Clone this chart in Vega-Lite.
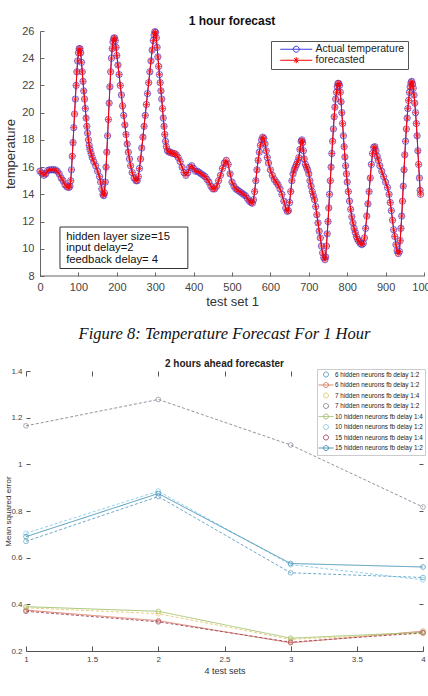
{
  "$schema": "https://vega.github.io/schema/vega-lite/v6.json",
  "background": "white",
  "padding": {"left": 4, "top": 15, "right": 0, "bottom": 0},
  "spacing": 17,
  "config": {
    "view": {"stroke": null},
    "font": "Liberation Sans",
    "axis": {"grid": false, "titleFontWeight": "normal", "labelFlush": false, "labelOverlap": false}
  },
  "resolve": {
    "scale": {"x": "independent", "y": "independent", "color": "independent"},
    "axis": {"x": "independent", "y": "independent"},
    "legend": {"color": "independent"}
  },
  "vconcat": [
    {
      "width": 398,
      "height": 245,
      "title": {"text": "1 hour forecast", "fontSize": 12, "fontWeight": "bold", "color": "#111", "offset": -3, "dx": 7, "anchor": "middle"},
      "layer": [
        {
          "data": {"values": [
            {"t":0,"actual":15.7,"forecast":15.7},{"t":5,"actual":15.55,"forecast":15.55},{"t":10,"actual":15.4,"forecast":15.4},{"t":15,"actual":15.5,"forecast":15.5},
            {"t":20,"actual":15.75,"forecast":15.75},{"t":25,"actual":15.8,"forecast":15.8},{"t":30,"actual":15.8,"forecast":15.8},{"t":35,"actual":15.8,"forecast":15.8},
            {"t":40,"actual":15.8,"forecast":15.8},{"t":45,"actual":15.7,"forecast":15.7},{"t":50,"actual":15.5,"forecast":15.5},{"t":55,"actual":15.2,"forecast":15.2},
            {"t":60,"actual":15.0,"forecast":15.0},{"t":65,"actual":14.7,"forecast":14.7},{"t":70,"actual":14.55,"forecast":14.55},{"t":75,"actual":14.5,"forecast":14.5},
            {"t":78,"actual":14.6,"forecast":14.6},{"t":80,"actual":15.0,"forecast":15.0},{"t":82,"actual":15.8,"forecast":15.8},{"t":84,"actual":16.8,"forecast":16.8},
            {"t":86,"actual":17.8,"forecast":17.8},{"t":88,"actual":18.9,"forecast":18.9},{"t":90,"actual":19.9,"forecast":19.9},{"t":92,"actual":21.0,"forecast":21.0},
            {"t":94,"actual":22.0,"forecast":22.0},{"t":96,"actual":23.0,"forecast":23.0},{"t":98,"actual":23.8,"forecast":23.8},{"t":100,"actual":24.4,"forecast":24.4},
            {"t":102,"actual":24.7,"forecast":24.7},{"t":104,"actual":24.7,"forecast":24.7},{"t":106,"actual":24.4,"forecast":24.4},{"t":108,"actual":23.7,"forecast":23.7},
            {"t":110,"actual":23.0,"forecast":23.0},{"t":112,"actual":22.3,"forecast":22.3},{"t":114,"actual":21.6,"forecast":21.6},{"t":116,"actual":21.0,"forecast":21.0},
            {"t":118,"actual":20.3,"forecast":20.3},{"t":120,"actual":19.6,"forecast":19.6},{"t":122,"actual":19.0,"forecast":19.0},{"t":124,"actual":18.5,"forecast":18.5},
            {"t":126,"actual":18.0,"forecast":18.0},{"t":128,"actual":17.6,"forecast":17.6},{"t":130,"actual":17.3,"forecast":17.3},{"t":133,"actual":17.0,"forecast":17.0},
            {"t":136,"actual":16.7,"forecast":16.7},{"t":140,"actual":16.4,"forecast":16.4},{"t":145,"actual":16.1,"forecast":16.1},{"t":150,"actual":15.7,"forecast":15.7},
            {"t":155,"actual":15.3,"forecast":15.3},{"t":158,"actual":14.9,"forecast":14.9},{"t":161,"actual":14.4,"forecast":14.4},{"t":164,"actual":14.0,"forecast":14.0},
            {"t":166,"actual":13.9,"forecast":13.9},{"t":168,"actual":14.1,"forecast":14.1},{"t":170,"actual":14.9,"forecast":14.9},{"t":172,"actual":16.0,"forecast":16.0},
            {"t":174,"actual":17.1,"forecast":17.1},{"t":176,"actual":18.3,"forecast":18.3},{"t":178,"actual":19.5,"forecast":19.5},{"t":180,"actual":20.7,"forecast":20.7},
            {"t":182,"actual":21.9,"forecast":21.9},{"t":184,"actual":23.0,"forecast":23.0},{"t":186,"actual":24.0,"forecast":24.0},{"t":188,"actual":24.7,"forecast":24.7},
            {"t":190,"actual":25.2,"forecast":25.2},{"t":192,"actual":25.45,"forecast":25.45},{"t":194,"actual":25.5,"forecast":25.5},{"t":196,"actual":25.3,"forecast":25.3},
            {"t":198,"actual":24.8,"forecast":24.8},{"t":200,"actual":24.2,"forecast":24.2},{"t":203,"actual":23.5,"forecast":23.5},{"t":206,"actual":22.8,"forecast":22.8},
            {"t":209,"actual":22.0,"forecast":22.0},{"t":212,"actual":21.3,"forecast":21.3},{"t":215,"actual":20.5,"forecast":20.5},{"t":218,"actual":19.8,"forecast":19.8},
            {"t":221,"actual":19.1,"forecast":19.1},{"t":224,"actual":18.4,"forecast":18.4},{"t":227,"actual":17.7,"forecast":17.7},{"t":230,"actual":17.1,"forecast":17.1},
            {"t":233,"actual":16.6,"forecast":16.6},{"t":236,"actual":16.1,"forecast":16.1},{"t":240,"actual":15.6,"forecast":15.6},{"t":245,"actual":15.2,"forecast":15.2},
            {"t":250,"actual":15.0,"forecast":15.0},{"t":253,"actual":15.0,"forecast":15.0},{"t":256,"actual":15.3,"forecast":15.3},{"t":259,"actual":15.9,"forecast":15.9},
            {"t":262,"actual":16.6,"forecast":16.6},{"t":265,"actual":17.4,"forecast":17.4},{"t":268,"actual":18.2,"forecast":18.2},{"t":271,"actual":19.0,"forecast":19.0},
            {"t":274,"actual":19.8,"forecast":19.8},{"t":277,"actual":20.6,"forecast":20.6},{"t":280,"actual":21.4,"forecast":21.4},{"t":283,"actual":22.2,"forecast":22.2},
            {"t":286,"actual":23.0,"forecast":23.0},{"t":289,"actual":23.8,"forecast":23.8},{"t":292,"actual":24.6,"forecast":24.6},{"t":295,"actual":25.3,"forecast":25.3},
            {"t":297,"actual":25.7,"forecast":25.7},{"t":299,"actual":25.95,"forecast":25.95},{"t":301,"actual":25.9,"forecast":25.9},{"t":303,"actual":25.5,"forecast":25.5},
            {"t":305,"actual":24.8,"forecast":24.8},{"t":307,"actual":24.1,"forecast":24.1},{"t":309,"actual":23.4,"forecast":23.4},{"t":311,"actual":22.8,"forecast":22.8},
            {"t":313,"actual":22.2,"forecast":22.2},{"t":315,"actual":21.6,"forecast":21.6},{"t":317,"actual":21.0,"forecast":21.0},{"t":319,"actual":20.3,"forecast":20.3},
            {"t":321,"actual":19.6,"forecast":19.6},{"t":323,"actual":19.0,"forecast":19.0},{"t":325,"actual":18.4,"forecast":18.4},{"t":327,"actual":17.9,"forecast":17.9},
            {"t":329,"actual":17.5,"forecast":17.5},{"t":332,"actual":17.2,"forecast":17.2},{"t":336,"actual":17.1,"forecast":17.1},{"t":340,"actual":17.1,"forecast":17.1},
            {"t":345,"actual":17.0,"forecast":17.0},{"t":350,"actual":17.0,"forecast":17.0},{"t":355,"actual":16.9,"forecast":16.9},{"t":360,"actual":16.7,"forecast":16.7},
            {"t":365,"actual":16.4,"forecast":16.4},{"t":370,"actual":16.0,"forecast":16.0},{"t":375,"actual":15.6,"forecast":15.6},{"t":380,"actual":15.4,"forecast":15.4},
            {"t":385,"actual":15.6,"forecast":15.6},{"t":390,"actual":16.0,"forecast":16.0},{"t":395,"actual":16.1,"forecast":16.1},{"t":400,"actual":15.9,"forecast":15.9},
            {"t":405,"actual":15.7,"forecast":15.7},{"t":410,"actual":15.7,"forecast":15.7},{"t":415,"actual":15.6,"forecast":15.6},{"t":420,"actual":15.5,"forecast":15.5},
            {"t":425,"actual":15.4,"forecast":15.4},{"t":430,"actual":15.3,"forecast":15.3},{"t":435,"actual":15.1,"forecast":15.1},{"t":440,"actual":14.9,"forecast":14.9},
            {"t":445,"actual":14.6,"forecast":14.6},{"t":450,"actual":14.4,"forecast":14.4},{"t":455,"actual":14.4,"forecast":14.4},{"t":460,"actual":14.6,"forecast":14.6},
            {"t":465,"actual":15.0,"forecast":15.0},{"t":470,"actual":15.4,"forecast":15.4},{"t":475,"actual":15.9,"forecast":15.9},{"t":480,"actual":16.3,"forecast":16.3},
            {"t":485,"actual":16.5,"forecast":16.5},{"t":490,"actual":16.2,"forecast":16.2},{"t":495,"actual":15.5,"forecast":15.5},{"t":500,"actual":14.9,"forecast":14.9},
            {"t":505,"actual":14.6,"forecast":14.6},{"t":510,"actual":14.4,"forecast":14.4},{"t":515,"actual":14.3,"forecast":14.3},{"t":520,"actual":14.2,"forecast":14.2},
            {"t":525,"actual":14.1,"forecast":14.1},{"t":530,"actual":14.0,"forecast":14.0},{"t":535,"actual":13.9,"forecast":13.9},{"t":540,"actual":13.7,"forecast":13.7},
            {"t":545,"actual":13.5,"forecast":13.5},{"t":550,"actual":13.4,"forecast":13.4},{"t":553,"actual":13.35,"forecast":13.35},{"t":556,"actual":13.6,"forecast":13.6},
            {"t":559,"actual":14.2,"forecast":14.2},{"t":562,"actual":15.0,"forecast":15.0},{"t":565,"actual":15.8,"forecast":15.8},{"t":568,"actual":16.5,"forecast":16.5},
            {"t":571,"actual":17.1,"forecast":17.1},{"t":574,"actual":17.6,"forecast":17.6},{"t":577,"actual":18.0,"forecast":18.0},{"t":580,"actual":18.2,"forecast":18.2},
            {"t":583,"actual":18.1,"forecast":18.1},{"t":586,"actual":17.7,"forecast":17.7},{"t":589,"actual":17.2,"forecast":17.2},{"t":592,"actual":16.7,"forecast":16.7},
            {"t":595,"actual":16.3,"forecast":16.3},{"t":600,"actual":15.8,"forecast":15.8},{"t":605,"actual":15.4,"forecast":15.4},{"t":610,"actual":15.1,"forecast":15.1},
            {"t":615,"actual":14.9,"forecast":14.9},{"t":620,"actual":14.7,"forecast":14.7},{"t":625,"actual":14.4,"forecast":14.4},{"t":630,"actual":14.0,"forecast":14.0},
            {"t":635,"actual":13.5,"forecast":13.5},{"t":640,"actual":13.0,"forecast":13.0},{"t":644,"actual":12.75,"forecast":12.75},{"t":647,"actual":12.8,"forecast":12.8},
            {"t":650,"actual":13.4,"forecast":13.4},{"t":653,"actual":14.2,"forecast":14.2},{"t":656,"actual":15.0,"forecast":15.0},{"t":659,"actual":15.5,"forecast":15.5},
            {"t":662,"actual":15.8,"forecast":15.8},{"t":665,"actual":16.0,"forecast":16.0},{"t":668,"actual":16.2,"forecast":16.2},{"t":671,"actual":16.4,"forecast":16.4},
            {"t":674,"actual":16.7,"forecast":16.7},{"t":677,"actual":17.3,"forecast":17.3},{"t":680,"actual":17.9,"forecast":17.9},{"t":682,"actual":18.0,"forecast":18.0},
            {"t":684,"actual":17.8,"forecast":17.8},{"t":686,"actual":17.2,"forecast":17.2},{"t":688,"actual":16.6,"forecast":16.6},{"t":691,"actual":16.2,"forecast":16.2},
            {"t":694,"actual":16.0,"forecast":16.0},{"t":697,"actual":15.8,"forecast":15.8},{"t":700,"actual":15.5,"forecast":15.5},{"t":703,"actual":15.0,"forecast":15.0},
            {"t":706,"actual":14.6,"forecast":14.6},{"t":709,"actual":14.2,"forecast":14.2},{"t":712,"actual":13.9,"forecast":13.9},{"t":715,"actual":13.6,"forecast":13.6},
            {"t":718,"actual":13.1,"forecast":13.1},{"t":721,"actual":12.5,"forecast":12.5},{"t":724,"actual":11.9,"forecast":11.9},{"t":727,"actual":11.3,"forecast":11.3},
            {"t":730,"actual":10.8,"forecast":10.8},{"t":733,"actual":10.2,"forecast":10.2},{"t":736,"actual":9.7,"forecast":9.7},{"t":739,"actual":9.35,"forecast":9.35},
            {"t":742,"actual":9.2,"forecast":9.2},{"t":744,"actual":9.4,"forecast":9.4},{"t":746,"actual":10.2,"forecast":10.2},{"t":748,"actual":11.1,"forecast":11.1},
            {"t":750,"actual":12.0,"forecast":12.0},{"t":752,"actual":13.0,"forecast":13.0},{"t":754,"actual":14.0,"forecast":14.0},{"t":756,"actual":15.0,"forecast":15.0},
            {"t":758,"actual":16.0,"forecast":16.0},{"t":760,"actual":17.0,"forecast":17.0},{"t":762,"actual":17.9,"forecast":17.9},{"t":764,"actual":18.8,"forecast":18.8},
            {"t":766,"actual":19.7,"forecast":19.7},{"t":768,"actual":20.4,"forecast":20.4},{"t":770,"actual":21.0,"forecast":21.0},{"t":772,"actual":21.5,"forecast":21.5},
            {"t":774,"actual":21.9,"forecast":21.9},{"t":776,"actual":22.15,"forecast":22.15},{"t":778,"actual":22.15,"forecast":22.15},{"t":780,"actual":22.0,"forecast":22.0},
            {"t":782,"actual":21.5,"forecast":21.5},{"t":784,"actual":20.8,"forecast":20.8},{"t":786,"actual":20.0,"forecast":20.0},{"t":788,"actual":19.2,"forecast":19.2},
            {"t":790,"actual":18.3,"forecast":18.3},{"t":792,"actual":17.5,"forecast":17.5},{"t":794,"actual":16.75,"forecast":16.75},{"t":796,"actual":16.1,"forecast":16.1},
            {"t":798,"actual":15.5,"forecast":15.5},{"t":800,"actual":14.9,"forecast":14.9},{"t":803,"actual":14.2,"forecast":14.2},{"t":806,"actual":13.5,"forecast":13.5},
            {"t":809,"actual":12.9,"forecast":12.9},{"t":812,"actual":12.35,"forecast":12.35},{"t":815,"actual":11.9,"forecast":11.9},{"t":818,"actual":11.5,"forecast":11.5},
            {"t":821,"actual":11.2,"forecast":11.2},{"t":824,"actual":10.9,"forecast":10.9},{"t":827,"actual":10.7,"forecast":10.7},{"t":830,"actual":10.55,"forecast":10.55},
            {"t":834,"actual":10.4,"forecast":10.4},{"t":838,"actual":10.3,"forecast":10.3},{"t":842,"actual":10.4,"forecast":10.4},{"t":845,"actual":10.8,"forecast":10.8},
            {"t":848,"actual":11.5,"forecast":11.5},{"t":851,"actual":12.4,"forecast":12.4},{"t":854,"actual":13.3,"forecast":13.3},{"t":857,"actual":14.2,"forecast":14.2},
            {"t":860,"actual":15.2,"forecast":15.2},{"t":863,"actual":16.2,"forecast":16.2},{"t":866,"actual":17.0,"forecast":17.0},{"t":869,"actual":17.45,"forecast":17.45},
            {"t":872,"actual":17.5,"forecast":17.5},{"t":875,"actual":17.2,"forecast":17.2},{"t":878,"actual":16.8,"forecast":16.8},{"t":881,"actual":16.5,"forecast":16.5},
            {"t":885,"actual":16.1,"forecast":16.1},{"t":890,"actual":15.7,"forecast":15.7},{"t":895,"actual":15.3,"forecast":15.3},{"t":900,"actual":14.9,"forecast":14.9},
            {"t":905,"actual":14.5,"forecast":14.5},{"t":909,"actual":14.0,"forecast":14.0},{"t":912,"actual":13.4,"forecast":13.4},{"t":915,"actual":12.8,"forecast":12.8},
            {"t":918,"actual":12.1,"forecast":12.1},{"t":921,"actual":11.4,"forecast":11.4},{"t":924,"actual":10.9,"forecast":10.9},{"t":927,"actual":10.3,"forecast":10.3},
            {"t":930,"actual":9.85,"forecast":9.85},{"t":933,"actual":9.65,"forecast":9.65},{"t":936,"actual":9.8,"forecast":9.8},{"t":938,"actual":10.6,"forecast":10.6},
            {"t":940,"actual":11.5,"forecast":11.5},{"t":942,"actual":12.4,"forecast":12.4},{"t":944,"actual":13.5,"forecast":13.5},{"t":946,"actual":14.6,"forecast":14.6},
            {"t":948,"actual":15.8,"forecast":15.8},{"t":950,"actual":16.9,"forecast":16.9},{"t":952,"actual":17.9,"forecast":17.9},{"t":954,"actual":18.8,"forecast":18.8},
            {"t":956,"actual":19.6,"forecast":19.6},{"t":958,"actual":20.3,"forecast":20.3},{"t":960,"actual":20.9,"forecast":20.9},{"t":962,"actual":21.5,"forecast":21.5},
            {"t":964,"actual":21.9,"forecast":21.9},{"t":966,"actual":22.2,"forecast":22.2},{"t":968,"actual":22.3,"forecast":22.3},{"t":970,"actual":22.1,"forecast":22.1},
            {"t":972,"actual":21.8,"forecast":21.8},{"t":974,"actual":21.3,"forecast":21.3},{"t":976,"actual":20.7,"forecast":20.7},{"t":978,"actual":20.0,"forecast":20.0},
            {"t":980,"actual":19.2,"forecast":19.2},{"t":982,"actual":18.3,"forecast":18.3},{"t":984,"actual":17.2,"forecast":17.2},{"t":986,"actual":16.2,"forecast":16.2},
            {"t":988,"actual":15.2,"forecast":15.2},{"t":990,"actual":14.3,"forecast":14.3},{"t":991,"actual":14.0,"forecast":14.0}
          ]},
          "layer": [
            {
              "mark": {"type": "line", "strokeWidth": 1},
              "encoding": {
                "x": {"field": "t", "type": "quantitative", "scale": {"domain": [-36.5, 1000], "nice": false},
                  "axis": {"values": [0, 100, 200, 300, 400, 500, 600, 700, 800, 900, 1000], "format": "d", "labelOverlap": false, "title": "test set 1", "titleX": 206, "titleFontSize": 13, "titleColor": "#333", "titlePadding": 3, "labelFontSize": 11, "labelColor": "#444", "labelPadding": 9, "tickSize": -4, "tickColor": "#666", "domain": false}},
                "y": {"field": "actual", "type": "quantitative", "scale": {"domain": [8, 26], "nice": false},
                  "axis": {"values": [8, 10, 12, 14, 16, 18, 20, 22, 24, 26], "labelOverlap": false, "offset": -14, "title": "temperature", "titleFontSize": 13, "titleColor": "#333", "titlePadding": 4, "labelFontSize": 11, "labelColor": "#444", "labelPadding": 10, "tickSize": -4, "tickColor": "#666", "domainColor": "#666"}},
                "color": {
                  "datum": "Actual temperature",
                  "scale": {"domain": ["Actual temperature", "forecasted"], "range": ["#3a3ae0", "#ff0000"]},
                  "legend": {
                    "orient": "none", "legendX": 245, "legendY": 10, "title": null,
                    "labelFontSize": 10.5, "labelColor": "#222", "labelOffset": 14,
                    "symbolSize": 64, "symbolStrokeWidth": 1, "symbolOffset": 17,
                    "padding": 3, "rowPadding": -2.5,
                    "strokeColor": "#555", "fillColor": "white",
                    "encode": {"symbols": {"update": {
                      "shape": {"signal": "datum.value === 'forecasted' ? 'M-4,0H4M0,-0.75V0.75M-0.53,-0.53L0.53,0.53M-0.53,0.53L0.53,-0.53' : 'M-4,0H4M0.75,0A0.75,0.75 0 1 1 -0.75,0A0.75,0.75 0 1 1 0.75,0'"},
                      "fill": {"value": "transparent"},
                      "strokeWidth": {"value": 1}
                    }}}
                  }
                }
              }
            },
            {
              "mark": {"type": "point", "filled": false, "size": 40, "strokeWidth": 1, "shape": "circle"},
              "encoding": {
                "x": {"field": "t", "type": "quantitative",
                  "axis": {"values": [0, 100, 200, 300, 400, 500, 600, 700, 800, 900, 1000], "format": "d", "labelOverlap": false, "title": "test set 1", "titleX": 206, "titleFontSize": 13, "titleColor": "#333", "titlePadding": 3, "labelFontSize": 11, "labelColor": "#444", "labelPadding": 9, "tickSize": -4, "tickColor": "#666", "domain": false}},
                "y": {"field": "actual", "type": "quantitative",
                  "axis": {"values": [8, 10, 12, 14, 16, 18, 20, 22, 24, 26], "labelOverlap": false, "offset": -14, "title": "temperature", "titleFontSize": 13, "titleColor": "#333", "titlePadding": 4, "labelFontSize": 11, "labelColor": "#444", "labelPadding": 10, "tickSize": -4, "tickColor": "#666", "domainColor": "#666"}},
                "color": {"datum": "Actual temperature"}
              }
            },
            {
              "mark": {"type": "line", "strokeWidth": 1},
              "encoding": {
                "x": {"field": "t", "type": "quantitative",
                  "axis": {"values": [0, 100, 200, 300, 400, 500, 600, 700, 800, 900, 1000], "format": "d", "labelOverlap": false, "title": "test set 1", "titleX": 206, "titleFontSize": 13, "titleColor": "#333", "titlePadding": 3, "labelFontSize": 11, "labelColor": "#444", "labelPadding": 9, "tickSize": -4, "tickColor": "#666", "domain": false}},
                "y": {"field": "forecast", "type": "quantitative",
                  "axis": {"values": [8, 10, 12, 14, 16, 18, 20, 22, 24, 26], "labelOverlap": false, "offset": -14, "title": "temperature", "titleFontSize": 13, "titleColor": "#333", "titlePadding": 4, "labelFontSize": 11, "labelColor": "#444", "labelPadding": 10, "tickSize": -4, "tickColor": "#666", "domainColor": "#666"}},
                "color": {"datum": "forecasted"}
              }
            },
            {
              "mark": {"type": "point", "filled": false, "size": 40, "strokeWidth": 1, "shape": "M0,-1V1M-1,0H1M-0.7,-0.7L0.7,0.7M-0.7,0.7L0.7,-0.7"},
              "encoding": {
                "x": {"field": "t", "type": "quantitative",
                  "axis": {"values": [0, 100, 200, 300, 400, 500, 600, 700, 800, 900, 1000], "format": "d", "labelOverlap": false, "title": "test set 1", "titleX": 206, "titleFontSize": 13, "titleColor": "#333", "titlePadding": 3, "labelFontSize": 11, "labelColor": "#444", "labelPadding": 9, "tickSize": -4, "tickColor": "#666", "domain": false}},
                "y": {"field": "forecast", "type": "quantitative",
                  "axis": {"values": [8, 10, 12, 14, 16, 18, 20, 22, 24, 26], "labelOverlap": false, "offset": -14, "title": "temperature", "titleFontSize": 13, "titleColor": "#333", "titlePadding": 4, "labelFontSize": 11, "labelColor": "#444", "labelPadding": 10, "tickSize": -4, "tickColor": "#666", "domainColor": "#666"}},
                "color": {"datum": "forecasted"}
              }
            }
          ]
        },
        {
          "data": {"values": [{}]},
          "mark": {"type": "rule", "color": "#666", "strokeWidth": 1},
          "encoding": {
            "x": {"datum": 0, "type": "quantitative",
              "axis": {"values": [0, 100, 200, 300, 400, 500, 600, 700, 800, 900, 1000], "format": "d", "labelOverlap": false, "title": "test set 1", "titleX": 206, "titleFontSize": 13, "titleColor": "#333", "titlePadding": 3, "labelFontSize": 11, "labelColor": "#444", "labelPadding": 9, "tickSize": -4, "tickColor": "#666", "domain": false}},
            "x2": {"datum": 1000},
            "y": {"datum": 8, "type": "quantitative",
              "axis": {"values": [8, 10, 12, 14, 16, 18, 20, 22, 24, 26], "labelOverlap": false, "offset": -14, "title": "temperature", "titleFontSize": 13, "titleColor": "#333", "titlePadding": 4, "labelFontSize": 11, "labelColor": "#444", "labelPadding": 10, "tickSize": -4, "tickColor": "#666", "domainColor": "#666"}}
          }
        },
        {
          "data": {"values": [{}]},
          "mark": {"type": "rect", "fill": "white", "stroke": "#333", "strokeWidth": 1},
          "encoding": {
            "x": {"datum": 52, "type": "quantitative",
              "axis": {"values": [0, 100, 200, 300, 400, 500, 600, 700, 800, 900, 1000], "format": "d", "labelOverlap": false, "title": "test set 1", "titleX": 206, "titleFontSize": 13, "titleColor": "#333", "titlePadding": 3, "labelFontSize": 11, "labelColor": "#444", "labelPadding": 9, "tickSize": -4, "tickColor": "#666", "domain": false}},
            "x2": {"datum": 385},
            "y": {"datum": 11.6, "type": "quantitative",
              "axis": {"values": [8, 10, 12, 14, 16, 18, 20, 22, 24, 26], "labelOverlap": false, "offset": -14, "title": "temperature", "titleFontSize": 13, "titleColor": "#333", "titlePadding": 4, "labelFontSize": 11, "labelColor": "#444", "labelPadding": 10, "tickSize": -4, "tickColor": "#666", "domainColor": "#666"}},
            "y2": {"datum": 8.55}
          }
        },
        {
          "data": {"values": [{}]},
          "mark": {
            "type": "text", "align": "left", "baseline": "middle", "fontSize": 11.3, "lineHeight": 11.7, "color": "#111",
            "text": ["hidden layer size=15", "input delay=2", "feedback delay= 4"]
          },
          "encoding": {
            "x": {"datum": 68, "type": "quantitative",
              "axis": {"values": [0, 100, 200, 300, 400, 500, 600, 700, 800, 900, 1000], "format": "d", "labelOverlap": false, "title": "test set 1", "titleX": 206, "titleFontSize": 13, "titleColor": "#333", "titlePadding": 3, "labelFontSize": 11, "labelColor": "#444", "labelPadding": 9, "tickSize": -4, "tickColor": "#666", "domain": false}},
            "y": {"datum": 10.88, "type": "quantitative",
              "axis": {"values": [8, 10, 12, 14, 16, 18, 20, 22, 24, 26], "labelOverlap": false, "offset": -14, "title": "temperature", "titleFontSize": 13, "titleColor": "#333", "titlePadding": 4, "labelFontSize": 11, "labelColor": "#444", "labelPadding": 10, "tickSize": -4, "tickColor": "#666", "domainColor": "#666"}}
          }
        }
      ]
    },
    {
      "width": 397,
      "height": 280,
      "title": {
        "text": "Figure 8: Temperature Forecast For 1 Hour",
        "subtitle": "2 hours ahead forecaster",
        "font": "Liberation Serif", "fontSize": 16.5, "fontStyle": "italic", "fontWeight": "normal", "color": "#111",
        "subtitleFont": "Liberation Sans", "subtitleFontSize": 10, "subtitleFontWeight": "bold", "subtitleColor": "#222",
        "subtitlePadding": 17, "offset": -2, "anchor": "middle"
      },
      "data": {"values": [
        {"series": 1, "set": 1, "mse": 0.67}, {"series": 1, "set": 2, "mse": 0.862}, {"series": 1, "set": 3, "mse": 0.535}, {"series": 1, "set": 4, "mse": 0.515},
        {"series": 2, "set": 1, "mse": 0.375}, {"series": 2, "set": 2, "mse": 0.33}, {"series": 2, "set": 3, "mse": 0.235}, {"series": 2, "set": 4, "mse": 0.285},
        {"series": 3, "set": 1, "mse": 0.385}, {"series": 3, "set": 2, "mse": 0.36}, {"series": 3, "set": 3, "mse": 0.25}, {"series": 3, "set": 4, "mse": 0.275},
        {"series": 4, "set": 1, "mse": 1.165}, {"series": 4, "set": 2, "mse": 1.278}, {"series": 4, "set": 3, "mse": 1.083}, {"series": 4, "set": 4, "mse": 0.817},
        {"series": 5, "set": 1, "mse": 0.39}, {"series": 5, "set": 2, "mse": 0.37}, {"series": 5, "set": 3, "mse": 0.255}, {"series": 5, "set": 4, "mse": 0.28},
        {"series": 6, "set": 1, "mse": 0.705}, {"series": 6, "set": 2, "mse": 0.885}, {"series": 6, "set": 3, "mse": 0.57}, {"series": 6, "set": 4, "mse": 0.505},
        {"series": 7, "set": 1, "mse": 0.37}, {"series": 7, "set": 2, "mse": 0.325}, {"series": 7, "set": 3, "mse": 0.238}, {"series": 7, "set": 4, "mse": 0.278},
        {"series": 8, "set": 1, "mse": 0.69}, {"series": 8, "set": 2, "mse": 0.875}, {"series": 8, "set": 3, "mse": 0.575}, {"series": 8, "set": 4, "mse": 0.56}
      ]},
      "resolve": {"scale": {"x": "independent", "y": "independent"}},
      "layer": [
        {
          "mark": {"type": "line", "strokeWidth": 0.9},
          "encoding": {
            "x": {"field": "set", "type": "quantitative", "scale": {"domain": [1, 4], "nice": false}, "axis": {
              "values": [1, 1.5, 2, 2.5, 3, 3.5, 4], "format": "~g",
              "title": "4 test sets", "titleFontSize": 9, "titleColor": "#333", "titlePadding": 3,
              "labelFontSize": 8, "labelColor": "#444", "labelPadding": 9,
              "tickSize": -5, "tickColor": "#555", "domainColor": "#555"
            }},
            "y": {"field": "mse", "type": "quantitative", "scale": {"domain": [0.2, 1.4], "nice": false}, "axis": {
              "values": [0.2, 0.4, 0.6, 0.8, 1, 1.2, 1.4], "format": "~g",
              "title": "Mean squared error", "titleFontSize": 8, "titleColor": "#333", "titlePadding": -2,
              "labelFontSize": 8, "labelColor": "#444", "labelPadding": 8,
              "tickSize": -4, "tickColor": "#555", "domain": false
            }},
            "color": {
              "field": "series", "type": "nominal",
              "scale": {"domain": [1, 2, 3, 4, 5, 6, 7, 8], "range": ["#5b9ec2", "#d9785c", "#e8c86e", "#8a8594", "#9fc16b", "#86cbe6", "#9e4660", "#3d8fb0"]},
              "legend": {
                "orient": "none", "legendX": 291, "legendY": -2, "title": null,
                "labelExpr": "['6 hidden neurons fb delay 1:2', '6 hidden neurons fb delay 1:2', '7 hidden neurons fb delay 1:4', '7 hidden neurons fb delay 1:2', '10 hidden neurons fb delay 1:4', '10 hidden neurons fb delay 1:2', '15 hidden neurons fb delay 1:4', '15 hidden neurons fb delay 1:2'][+datum.value - 1]",
                "labelFont": "Liberation Sans", "labelFontSize": 6.4, "labelColor": "#222", "labelOffset": 5.5, "labelLimit": 200,
                "symbolSize": 36, "symbolStrokeWidth": 1, "symbolOffset": 3.5, "padding": 2, "rowPadding": 1.5,
                "strokeColor": "#ccc", "fillColor": "white",
                "encode": {"symbols": {"update": {
                  "shape": {"signal": "(datum.value == 2 || datum.value == 5 || datum.value == 8) ? 'M-2.5,0H2.5M0.83,0A0.83,0.83 0 1 1 -0.83,0A0.83,0.83 0 1 1 0.83,0' : 'M0.83,0A0.83,0.83 0 1 1 -0.83,0A0.83,0.83 0 1 1 0.83,0'"},
                  "fill": {"value": "transparent"},
                  "strokeDash": {"value": [1, 0]},
                  "strokeWidth": {"value": 1}
                }}}
              }
            },
            "strokeDash": {"condition": {"test": "datum.series == 2 || datum.series == 5 || datum.series == 8", "value": [1, 0]}, "value": [3, 2]}
          }
        },
        {
          "mark": {"type": "point", "filled": false, "size": 22, "strokeWidth": 1},
          "encoding": {
            "x": {"field": "set", "type": "quantitative", "scale": {"domain": [1, 4], "nice": false}, "axis": {
              "orient": "top", "values": [1, 1.5, 2, 2.5, 3, 3.5, 4], "labels": false, "title": null,
              "tickSize": -5, "tickColor": "#555", "domain": false
            }},
            "y": {"field": "mse", "type": "quantitative", "scale": {"domain": [0.2, 1.4], "nice": false}, "axis": {
              "orient": "right", "values": [0.2, 0.4, 0.6, 0.8, 1, 1.2, 1.4], "labels": false, "title": null,
              "tickSize": -4, "tickColor": "#555", "domain": false
            }},
            "color": {"field": "series", "type": "nominal"}
          }
        }
      ]
    }
  ]
}
